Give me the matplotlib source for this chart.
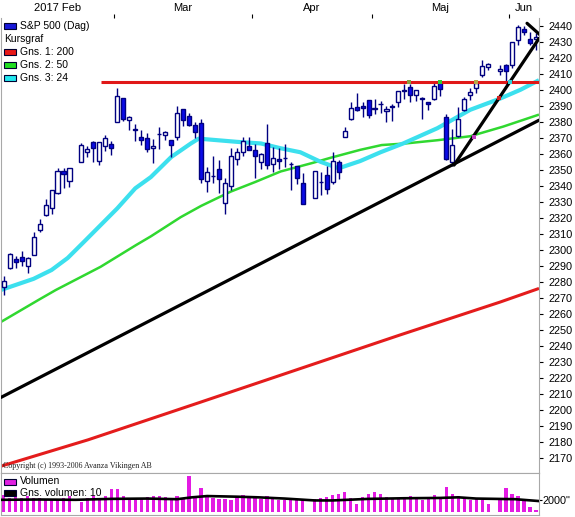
import numpy as np
import pandas as pd
import matplotlib
matplotlib.use('Agg')
import matplotlib.pyplot as plt
from matplotlib.patches import Rectangle

plt.rcParams['font.family'] = ['Liberation Sans', 'DejaVu Sans']

# ---------------------------------------------------------------- data
first_day = '2017-02-02'
last_day = '2017-06-07'
holidays = ['2017-02-20', '2017-04-14', '2017-05-29']
month_names = ['2017 Feb', 'Mar', 'Apr', 'Maj', 'Jun']

open_ = [2276.7, 2288.5, 2294.3, 2295.9, 2289.9, 2296.7, 2312.3, 2321.7, 2326.1, 2335.6, 2349.6, 2343.0,
         2354.9, 2361.1, 2367.5, 2355.7, 2365.2, 2366.1,
         2380.1, 2394.8, 2380.9, 2375.2, 2370.7, 2369.8, 2363.5, 2372.5, 2371.6, 2368.6, 2370.3, 2387.7,
         2383.7, 2378.2, 2379.3, 2343.0, 2346.0, 2350.4, 2329.1, 2339.8, 2356.5, 2361.3, 2364.8,
         2362.3, 2354.8, 2366.6, 2353.8, 2356.6, 2357.2, 2353.9, 2352.2, 2342.0,
         2332.6, 2342.5, 2346.8, 2342.7, 2354.7, 2370.3, 2381.5, 2389.0, 2389.7, 2393.7,
         2388.5, 2391.1, 2386.5, 2389.8, 2392.4, 2399.9, 2401.6, 2396.8, 2394.8, 2392.4, 2394.0, 2404.6,
         2383.0, 2354.7, 2371.4, 2387.2, 2397.0, 2401.4, 2409.5, 2414.5,
         2411.7, 2415.6,
         2415.7, 2431.3, 2437.8, 2431.9, 2432.0]
high = [2284.0, 2298.3, 2296.2, 2299.4, 2295.9, 2311.1, 2319.2, 2331.6, 2337.6, 2351.3, 2351.3, 2351.2,
        2366.7, 2365.1, 2368.3, 2367.3, 2371.5, 2367.8,
        2401.0, 2394.8, 2383.9, 2378.8, 2375.1, 2373.1, 2369.1, 2376.9, 2374.4, 2368.6, 2390.0, 2388.1,
        2385.7, 2379.6, 2381.9, 2351.8, 2358.9, 2356.2, 2344.9, 2363.8, 2363.4, 2370.4, 2370.4,
        2365.9, 2360.5, 2378.4, 2364.2, 2363.8, 2366.4, 2355.2, 2352.7, 2348.3,
        2349.1, 2348.4, 2352.6, 2361.4, 2356.2, 2377.0, 2392.5, 2398.2, 2392.1, 2393.7,
        2394.5, 2392.9, 2389.8, 2391.4, 2399.3, 2403.9, 2403.9, 2399.7, 2395.7, 2392.4, 2404.1, 2405.8,
        2384.9, 2375.7, 2389.1, 2395.5, 2400.9, 2405.6, 2418.7, 2416.7,
        2415.3, 2416.0,
        2430.1, 2440.2, 2439.6, 2436.2, 2435.3]
low = [2271.7, 2287.9, 2288.6, 2290.2, 2285.4, 2296.6, 2311.1, 2321.4, 2322.2, 2334.8, 2338.9, 2339.6,
       2354.9, 2358.3, 2355.1, 2352.9, 2361.9, 2359.0,
       2380.1, 2380.2, 2375.1, 2368.0, 2365.5, 2361.0, 2354.5, 2363.0, 2368.5, 2358.2, 2368.9, 2377.2,
       2377.6, 2369.7, 2341.9, 2336.5, 2342.1, 2335.7, 2322.3, 2337.6, 2352.9, 2358.6, 2362.6,
       2344.7, 2350.7, 2350.5, 2348.9, 2350.7, 2351.5, 2337.3, 2341.2, 2329.0,
       2332.5, 2334.5, 2335.1, 2340.9, 2344.5, 2370.3, 2381.2, 2386.8, 2382.7, 2382.4,
       2384.8, 2385.8, 2379.8, 2380.4, 2389.4, 2394.0, 2392.4, 2392.8, 2381.7, 2387.2, 2393.9, 2396.1,
       2356.2, 2352.7, 2370.4, 2386.9, 2393.9, 2398.0, 2408.0, 2412.2,
       2409.4, 2403.6,
       2413.5, 2427.7, 2434.3, 2428.1, 2424.8]
close = [2280.9, 2297.4, 2292.6, 2293.1, 2294.7, 2307.9, 2316.1, 2328.3, 2337.6, 2349.3, 2347.2, 2351.2,
         2365.4, 2362.8, 2363.8, 2367.3, 2369.8, 2363.6,
         2396.0, 2381.9, 2383.1, 2375.3, 2368.4, 2363.0, 2364.9, 2372.6, 2373.5, 2365.5, 2385.3, 2381.4,
         2378.3, 2373.5, 2344.0, 2348.5, 2346.0, 2344.0, 2341.6, 2358.6, 2361.1, 2368.1, 2362.7,
         2358.8, 2360.2, 2353.0, 2357.5, 2355.5, 2357.2, 2353.8, 2344.9, 2329.0,
         2349.0, 2342.2, 2338.2, 2355.8, 2348.7, 2374.2, 2388.6, 2387.5, 2388.8, 2384.2,
         2388.3, 2391.2, 2388.1, 2389.5, 2399.3, 2399.4, 2396.9, 2399.6, 2394.4, 2390.9, 2402.3, 2400.7,
         2357.0, 2365.7, 2381.7, 2394.0, 2398.4, 2404.4, 2415.1, 2415.8,
         2412.9, 2411.8,
         2430.1, 2439.1, 2436.1, 2429.3, 2433.1]

volume = [2700, 2250, 2400, 2250, 2600, 2300, 2250, 2150, 1850, 2000, 2250, 2600,
          1550, 2250, 2600, 2150, 2600, 3650,
          3650, 2600, 2150, 2250, 2250, 2400, 2600, 2600, 2400, 1850, 2600, 2150,
          5800, 2250, 3800, 2700, 2250, 2150, 2150, 2000, 2250, 2700, 2600,
          2400, 2150, 2600, 2400, 2000, 1850, 2000, 2000, 1850,
          2150, 2250, 2400, 2700, 2950, 3150, 2250, 1300, 2400, 2950,
          3250, 2950, 2400, 2150, 2250, 2400, 2600, 2150, 1850, 2250, 2700, 2400,
          4000, 2950, 2600, 2250, 2000, 2150, 1850, 1300,
          2000, 3800,
          2950, 2600, 1850, 870, 280]

# moving averages (weekday slot, value)
ma200_x = [-0.5, 14.1, 32.9, 49.6, 66.3, 83.0, 89.5]
ma200_y = [2165, 2181.5, 2205, 2226, 2247, 2267.5, 2276]
ma50_x = [-0.5, 5.9, 8.7, 16.2, 22.1, 24.6, 29.6, 33.0, 38.0, 42.1, 46.3, 51.8, 54.6, 59.6,
          63.2, 67.2, 72.5, 78.0, 83.5, 89.5]
ma50_y = [2255, 2269, 2275, 2289.5, 2303, 2308.5, 2320.5, 2327.5, 2336.5, 2342.5, 2349, 2354.5,
          2357.5, 2362.5, 2365.5, 2366.5, 2368.5, 2371, 2377, 2384.5]
ma24_x = [-0.5, 5.0, 8.0, 10.7, 13.4, 16.2, 19.0, 22.0, 24.6, 28.0, 31.3, 32.6, 35.8, 39.0,
          43.0, 46.3, 49.6, 53.0, 56.0, 59.6, 63.0, 66.8, 72.5, 78.0, 83.0, 86.4, 89.5]
ma24_y = [2275, 2282, 2287.5, 2295, 2305, 2315.5, 2326, 2338.5, 2345.5, 2358, 2366.5, 2369.5,
          2368.5, 2367.5, 2366.5, 2363.5, 2361, 2355, 2351, 2355.5, 2361, 2366.5, 2376, 2387.5,
          2394.5, 2400, 2406]
vol_ma_x = [-0.5, 6, 12, 18, 24, 29, 31.5, 34, 39, 42.5, 47, 52, 55, 61, 67, 73, 76, 79, 85.5, 89.5]
vol_ma_y = [1950, 2000, 1950, 2100, 2150, 2050, 2350, 2550, 2450, 2350, 2150, 1850, 1850, 2100,
            2200, 2250, 2350, 2150, 2050, 1750]

# drawn lines (start/end slot, start/end value)
resist_x = [16.25, 89.5]
resist_y = [2405, 2405]
trend_long_x = [-0.45, 89.5]
trend_long_y = [2208, 2381]
trend_steep_x = [75.3, 89.5]
trend_steep_y = [2353, 2432]
trend_top_x = [87.5, 89.6]
trend_top_y = [2441.5, 2434.5]

# small signal marks on the chart
signal_x = [67.8, 73.0, 79.0, 82.8, 78.6, 84.6]
signal_y = [2405, 2405, 2405, 2394.7, 2370.7, 2405]
signal_c = ['#8aa040', '#33cc33', '#b8a848', '#d02020', '#c040c0', '#30d0d8']

legend_labels = ['S&P 500 (Dag)', 'Kursgraf', 'Gns. 1: 200', 'Gns. 2: 50', 'Gns. 3: 24']
legend_colors = ['#1818d8', None, '#e81818', '#22dd22', '#22e8f0']
vol_legend_labels = ['Volumen', 'Gns. volumen: 10']
vol_legend_colors = ['#e020e0', '#000000']

# ---------------------------------------------------------------- layout
W, H = 575, 517
NAVY = '#000080'
GRAY = '#a8a8a8'

bdays = pd.bdate_range(first_day, last_day)
trade_days = bdays.drop(pd.to_datetime(holidays))
xs = bdays.get_indexer(trade_days)
o = np.array(open_); h = np.array(high); l = np.array(low); c = np.array(close)

xlim = (-0.45, 89.5)

fig = plt.figure(figsize=(W / 100, H / 100), dpi=100)
ax = fig.add_axes([1 / W, 1 - 473 / H, 538 / W, (473 - 18) / H])
axv = fig.add_axes([1 / W, 1 - 515 / H, 538 / W, (515 - 473) / H])

# moving averages
ax.plot(ma200_x, ma200_y, color='#e41c1c', lw=2.2, solid_capstyle='butt', zorder=2)
ax.plot(ma50_x, ma50_y, color='#30d830', lw=1.8, solid_capstyle='butt', zorder=2)
ax.plot(ma24_x, ma24_y, color='#3ce0ee', lw=3.0, solid_capstyle='butt', zorder=2)

# candles
up = c >= o
ax.vlines(xs, l, h, color=NAVY, lw=1.0, zorder=3)
ax.bar(xs[up], (c - o)[up], bottom=o[up], width=0.68, facecolor='white',
       edgecolor=NAVY, linewidth=1.0, zorder=4)
ax.bar(xs[~up], (o - c)[~up], bottom=c[~up], width=0.68, facecolor='#0a0ae8',
       edgecolor=NAVY, linewidth=1.0, zorder=4)

# drawn lines
ax.plot(resist_x, resist_y, color='#e01818', lw=2.2, solid_capstyle='butt', zorder=5)
for tx, ty in [(trend_long_x, trend_long_y), (trend_steep_x, trend_steep_y),
               (trend_top_x, trend_top_y)]:
    ax.plot(tx, ty, color='black', lw=2.3, solid_capstyle='round', zorder=6)
ax.scatter(signal_x, signal_y, s=7, c=signal_c, marker='s', linewidths=0, zorder=7)

ax.set_xlim(*xlim)
ax.set_ylim(2160.8, 2444.8)

# right price axis
ax.yaxis.tick_right()
ax.set_yticks(np.arange(2170, 2441, 10))
ax.tick_params(axis='y', direction='out', length=3, width=0.8, pad=3.6,
               labelsize=7.8, colors='black')

# months on top
months = bdays.month.values
bounds = np.where(np.diff(months) != 0)[0] + 0.5
ax.xaxis.tick_top()
ax.set_xticks(bounds)
ax.tick_params(axis='x', direction='out', length=3, width=0.8, labeltop=False,
               labelbottom=False, colors='black')
edges = np.concatenate([[xlim[0]], bounds, [xlim[1]]])
for name, a, b in zip(month_names, edges[:-1], edges[1:]):
    ax.text((a + b) / 2, 1 + 10 / 455, name, transform=ax.get_xaxis_transform(),
            ha='center', va='center', fontsize=8)

for side in ['left', 'right', 'bottom']:
    ax.spines[side].set_color(GRAY)
ax.spines['top'].set_visible(False)

ax.text(2 / 538, 7 / 455, 'Copyright (c) 1993-2006 Avanza Vikingen AB', transform=ax.transAxes,
        ha='left', va='center', fontsize=5.8, family=['Liberation Serif', 'DejaVu Serif'],
        color='#202020')

# volume panel
axv.bar(xs, volume, width=0.55, color='#e31be3', antialiased=False, zorder=2)
axv.plot(vol_ma_x, vol_ma_y, color='black', lw=1.9, zorder=3)
axv.set_xlim(*xlim)
axv.set_ylim(-480, 6240)
axv.set_xticks([])
axv.yaxis.tick_right()
axv.set_yticks([2000])
axv.set_yticklabels(['2000"'])
axv.tick_params(axis='y', direction='out', length=2.2, width=0.8, pad=0.5,
                labelsize=7.8, colors='black')
for side in axv.spines:
    axv.spines[side].set_color(GRAY)


def legend_row(y_px, label, color):
    if color is not None:
        fig.add_artist(Rectangle((4 / W, 1 - (y_px + 3) / H), 12 / W, 6 / H,
                                 transform=fig.transFigure, facecolor=color,
                                 edgecolor='#000030', linewidth=0.8))
        x_text = 20
    else:
        x_text = 4
    fig.text(x_text / W, 1 - y_px / H, label, ha='left', va='center', fontsize=7.5)


for k, (lab, col) in enumerate(zip(legend_labels, legend_colors)):
    legend_row(26 + 13 * k, lab, col)
for k, (lab, col) in enumerate(zip(vol_legend_labels, vol_legend_colors)):
    legend_row(481.5 + 11.5 * k, lab, col)

fig.savefig('out.png', dpi=100)
